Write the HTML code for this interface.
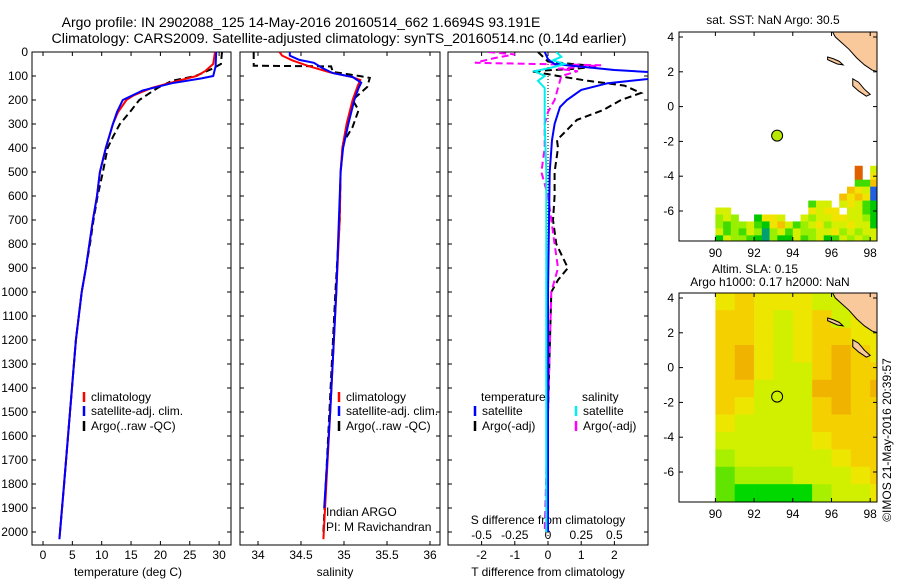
<!DOCTYPE html>
<html><head><meta charset="utf-8">
<style>
html,body{margin:0;padding:0;background:#fff;}
svg{display:block;font-family:"Liberation Sans",sans-serif;}
text{font-size:12px;fill:#000;}
</style></head>
<body>
<svg id="fig" width="900" height="580" viewBox="0 0 900 580" xmlns="http://www.w3.org/2000/svg">
<text x="301" y="27" text-anchor="middle" style="font-size:14px">Argo profile: IN 2902088_125 14-May-2016 20160514_662 1.6694S 93.191E</text>
<text x="339" y="43" text-anchor="middle" style="font-size:14.2px">Climatology: CARS2009. Satellite-adjusted climatology: synTS_20160514.nc (0.14d earlier)</text>
<g id="g"></g>
</svg>
<script>
// ---------- data ----------
const depthTicks=[0,100,200,300,400,500,600,700,800,900,1000,1100,1200,1300,1400,1500,1600,1700,1800,1900,2000];
const tempTicks=[0,5,10,15,20,25,30];
const salTicks=[34,34.5,35,35.5,36];
const tdTicks=[-2,-1,0,1,2];
const sdTicks=[-0.5,-0.25,0,0.25,0.5];
const lonTicks=[90,92,94,96,98];
const latTicks=[4,2,0,-2,-4,-6];

const tClimD=[0,50,80,100,120,150,180,200,250,300,400,500,600,700,800,900,1000,1200,1500,1800,2000,2030];
const tClimV=[29.3,29.0,27.6,26.2,23,18.5,15.5,14.2,12.8,11.9,10.7,9.7,9.2,8.5,7.9,7.3,6.6,5.6,4.6,3.6,2.9,2.8];
const tSatD=[0,60,100,110,130,160,200,250,300,400,500,600,700,800,900,1000,1200,1500,1800,2000,2030];
const tSatV=[29.5,29.4,29,27,22,17,13.6,12.6,11.9,10.7,9.7,9.2,8.5,7.9,7.3,6.6,5.6,4.6,3.6,2.9,2.8];
const tArgoD=[0,50,70,100,120,150,200,250,300,350,400,500,600,700,800,900,1000,1200,1500,1800,2000];
const tArgoV=[30.5,30.3,28.8,26,22,19.5,16.4,14.8,13.1,12,11,10.2,9.3,8.6,8.0,7.3,6.6,5.6,4.6,3.6,2.9];

const sClimD=[0,15,35,60,85,105,117,140,200,300,400,500,700,1000,1500,2030];
const sClimV=[34.25,34.28,34.4,34.6,34.84,35.1,35.19,35.16,35.1,35.03,34.98,34.96,34.95,34.91,34.84,34.76];
const sSatD=[0,15,33,45,67,88,104,128,150,200,300,400,500,1000,1500,1900];
const sSatV=[34.37,34.37,34.48,34.65,34.75,34.87,35.1,35.2,35.17,35.12,35.05,34.99,34.96,34.91,34.84,34.77];
const sArgoD=[0,50,57,60,83,100,108,146,200,242,312,354,380,500,700,1000,1500,2000];
const sArgoV=[33.95,33.95,33.95,34.85,34.87,35.18,35.3,35.27,35.1,35.17,35.1,35.03,34.99,34.96,34.95,34.9,34.83,34.76];

const dTSatD=[0,30,50,75,85,110,130,158,200,229,300,367,500,1000,2000];
const dTSatV=[-0.1,0.0,0.2,2.0,3.2,3.2,1.8,1.0,0.57,0.36,0.2,0.12,0.05,0,0];
const dTArgoD=[0,40,60,70,80,100,120,140,171,200,242,283,367,400,450,500,600,700,800,900,950,1000,1500,2000];
const dTArgoV=[-0.3,0,1.5,0.8,-0.5,0.3,1.2,2.3,2.8,2.2,1.66,0.87,0.27,0.3,0.25,0.2,0.2,0.15,0.25,0.6,0.3,0.1,0.0,-0.05];
const dSSatD=[0,20,35,50,65,80,100,120,150,200,300,500,1000,2000];
const dSSatV=[0.25,0.4,0.15,0.5,0.1,-0.4,-0.1,-0.3,-0.1,-0.1,-0.1,-0.05,-0.05,-0.05];
const dSArgoD=[0,10,25,45,55,70,80,100,150,200,250,300,400,500,600,700,800,900,1000,1500,2000];
const dSArgoV=[-1.8,-1.0,-1.6,-2.2,1.6,0.3,0.9,0.4,0.3,0.2,0.0,-0.1,-0.1,-0.2,0.0,0.1,0.2,0.3,0.1,0,-0.1];

const sstRowLat=[-3.4,-3.8,-4.2,-4.6,-5.0,-5.4,-5.8,-6.2,-6.6,-7.0,-7.4];
const sstRows=["..................O.y","..................O.Y","..................GGo",".................oYyb","................oYoYb","............Gyy.yYyGg","yy..........YyYY.yyGg","lyl..gYYy..ylyyYYyylg","lGllyGgYoyGlyYlyyYyyg","yGlGyltlyGyllyyYlylyy","gyllGgtlggyGlygGylyly"];
const slaRowLat=[4.3,3.3,2.3,1.3,0.3,-0.7,-1.7,-2.7,-3.7,-4.7,-5.7,-6.7];
const slaRows=["YoYYYyyYY","ooYyYoyYY","ooYyYooYY","oOYyYoOoY","oOYyyoOoo","ooyyyOOoO","oYyyyoOoo","Yyyyyoooo","yyyyyYooo","lyyyyyYoo","GlllyyyYo","GgggglyyY"];
const argoLon=93.191, argoLat=-1.6694;

// ---------- helpers ----------
const NS="http://www.w3.org/2000/svg";
const G=document.getElementById('g');
function mk(tag,attrs,parent){const e=document.createElementNS(NS,tag);for(const k in attrs)e.setAttribute(k,attrs[k]);(parent||G).appendChild(e);return e;}
const PT=52, PB=545;
const yD=d=>PT+d*0.24;
const xT=t=>43+t*5.87;
const xS=s=>258+(s-34)*86;
const xDT=v=>548+v*33.2;
const xDS=v=>548+v*132.8;
const panels=[[32,231],[240,440],[448,648]];
const palette={g:"#00c800",G:"#40dc00",l:"#98f000",y:"#d4f000",Y:"#f0e400",o:"#f5c000",O:"#e06000",b:"#2060e0",t:"#00a070"};
const slaPal={g:"#00d800",G:"#60e400",l:"#a8f000",y:"#d0f000",Y:"#ece600",o:"#f5d000",O:"#f0b400"};

function poly(ds,vs,xf,color,dash,name,w){
  const pts=ds.map((d,i)=>xf(vs[i]).toFixed(1)+","+yD(d).toFixed(1)).join(" ");
  const p=mk('polyline',{points:pts,fill:"none",stroke:color,"stroke-width":w||2,"stroke-dasharray":dash||"none","clip-path":"url(#"+name.split('-')[0]+"clip)"});
  
  
}
function txt(x,y,s,anchor,name,extra){
  const t=mk('text',Object.assign({x:x,y:y,"text-anchor":anchor||"start"},extra||{}));t.textContent=s;
  
  
  return t;
}

const defs=mk('defs',{});
["p1","p2","p3"].forEach((n,i)=>{const c=mk('clipPath',{id:n+"clip"},defs);mk('rect',{x:panels[i][0],y:PT,width:panels[i][1]-panels[i][0],height:PB-PT},c);});
[["m1",32],["m2",293]].forEach(([n,y0])=>{const c=mk('clipPath',{id:n+"clip"},defs);mk('rect',{x:679,y:y0,width:198,height:209},c);});

panels.forEach((p,i)=>{
  const r=mk('rect',{x:p[0],y:PT,width:p[1]-p[0],height:PB-PT,fill:"none",stroke:"#000","stroke-width":1});
  
  
  depthTicks.forEach(d=>{mk('line',{x1:p[0],x2:p[0]+4,y1:yD(d),y2:yD(d),stroke:"#000"});mk('line',{x1:p[1]-4,x2:p[1],y1:yD(d),y2:yD(d),stroke:"#000"});});
});
depthTicks.forEach(d=>txt(28,yD(d)+4,String(d),"end","depth-tick-label"));
tempTicks.forEach(t=>{const x=xT(t);mk('line',{x1:x,x2:x,y1:PT,y2:PT+4,stroke:"#000"});mk('line',{x1:x,x2:x,y1:PB-4,y2:PB,stroke:"#000"});txt(x,559,String(t),"middle","temp-tick-label");});
salTicks.forEach(s=>{const x=xS(s);mk('line',{x1:x,x2:x,y1:PT,y2:PT+4,stroke:"#000"});mk('line',{x1:x,x2:x,y1:PB-4,y2:PB,stroke:"#000"});txt(x,559,String(s),"middle","salinity-tick-label");});
tdTicks.forEach(v=>{const x=xDT(v);mk('line',{x1:x,x2:x,y1:PT,y2:PT+4,stroke:"#000"});mk('line',{x1:x,x2:x,y1:PB-4,y2:PB,stroke:"#000"});txt(x,559,String(v),"middle","tdiff-tick-label");});
sdTicks.forEach(v=>txt(xDS(v),539,String(v),"middle","sdiff-tick-label"));
txt(128,576,"temperature (deg C)","middle","x-axis-title-temperature");
txt(335,576,"salinity","middle","x-axis-title-salinity");
txt(548,576,"T difference from climatology","middle","x-axis-title-tdiff");
txt(548,524,"S difference from climatology","middle","sdiff-axis-title");
mk('line',{x1:548,x2:548,y1:PT,y2:PB,stroke:"#000","stroke-width":1,"stroke-dasharray":"1,2"});

poly(tArgoD,tArgoV,xT,"#000","7,4","p1-temp-argo");
poly(tClimD,tClimV,xT,"#f00","","p1-temp-climatology");
poly(tSatD,tSatV,xT,"#00f","","p1-temp-satellite");
poly(sArgoD,sArgoV,xS,"#000","7,4","p2-sal-argo");
poly(sClimD,sClimV,xS,"#f00","","p2-sal-climatology");
poly(sSatD,sSatV,xS,"#00f","","p2-sal-satellite");
poly(dTArgoD,dTArgoV,xDT,"#000","7,4","p3-tdiff-argo");
poly(dSArgoD,dSArgoV,xDT,"#f0f","7,4","p3-sdiff-argo");
poly(dTSatD,dTSatV,xDT,"#00f","","p3-tdiff-satellite");
poly(dSSatD,dSSatV,xDT,"#0ee","","p3-sdiff-satellite");

function leg(mx,y,color,label,name){const l=mk('line',{x1:mx,x2:mx,y1:y-6,y2:y+4,stroke:color,"stroke-width":2.5});txt(mx+7,y+3,label,"start",name);}
leg(84,398,"#f00","climatology","legend-climatology");
leg(84,412,"#00f","satellite-adj. clim.","legend-satellite");
leg(84,427,"#000","Argo(..raw -QC)","legend-argo");
leg(339,398,"#f00","climatology","legend2-climatology");
leg(339,412,"#00f","satellite-adj. clim.","legend2-satellite");
leg(339,427,"#000","Argo(..raw -QC)","legend2-argo");
txt(481,401,"temperature","start","legend3-temperature-header");
txt(582,401,"salinity","start","legend3-salinity-header");
leg(475,412,"#00f","satellite","legend3-temp-satellite");
leg(475,427,"#000","Argo(-adj)","legend3-temp-argo");
leg(576,412,"#0ee","satellite","legend3-sal-satellite");
leg(576,427,"#f0f","Argo(-adj)","legend3-sal-argo");
txt(326,516,"Indian ARGO","start","credit-indian-argo");
txt(326,531,"PI: M Ravichandran","start","credit-pi");

// ---------- maps ----------
const mLon=l=>679+(l-88.12)*19.35;
function mapLat(y0){return v=>y0+5+(4-v)*17.4;}
function drawMap(y0,name,cb){
  const yL=mapLat(y0);
  const g=mk('g',{"clip-path":"url(#"+name+"clip)"});
  
  
  cb(g,yL);
  const land=[[96.0,4.4],[96.2,4.0],[96.5,3.7],[96.9,3.3],[97.3,2.8],[97.7,2.4],[98.1,2.1],[98.4,2.0],[98.4,4.4]];
  mk('polygon',{points:land.map(p=>mLon(p[0])+","+yL(p[1])).join(" "),fill:"#f9c99b",stroke:"#000","stroke-width":1},g);
  const sim=[[95.8,2.85],[96.1,2.75],[96.4,2.6],[96.6,2.4],[96.3,2.45],[96.0,2.6],[95.8,2.7]];
  mk('polygon',{points:sim.map(p=>mLon(p[0])+","+yL(p[1])).join(" "),fill:"#f9c99b",stroke:"#000"},g);
  const nias=[[97.1,1.6],[97.4,1.4],[97.7,1.0],[98.0,0.7],[97.8,0.6],[97.4,0.9],[97.1,1.2]];
  mk('polygon',{points:nias.map(p=>mLon(p[0])+","+yL(p[1])).join(" "),fill:"#f9c99b",stroke:"#000"},g);
  mk('rect',{x:679,y:y0,width:198,height:209,fill:"none",stroke:"#000"});
  lonTicks.forEach(l=>{const x=mLon(l);mk('line',{x1:x,x2:x,y1:y0,y2:y0+4,stroke:"#000"});mk('line',{x1:x,x2:x,y1:y0+205,y2:y0+209,stroke:"#000"});txt(x,y0+225,String(l),"middle","lon-tick-label");});
  latTicks.forEach(l=>{const y=yL(l);mk('line',{x1:679,x2:683,y1:y,y2:y,stroke:"#000"});mk('line',{x1:873,x2:877,y1:y,y2:y,stroke:"#000"});txt(674,y+4,String(l),"end","lat-tick-label");});
  return yL;
}
const yL1=drawMap(32,"m1",(g,yL)=>{
  sstRows.forEach((row,r)=>{for(let c=0;c<row.length;c++){const ch=row[c];if(ch==='.')continue;
    const lon=90+0.4*c, lat=sstRowLat[r];
    const cell=mk('rect',{x:mLon(lon),y:yL(lat),width:0.4*19.35+0.3,height:0.4*17.4+0.3,fill:palette[ch]},g);
    
    }});
});
const c1=mk('circle',{cx:mLon(argoLon),cy:yL1(argoLat),r:5.5,fill:"#b8e800",stroke:"#000"});


const yL2=drawMap(293,"m2",(g,yL)=>{
  slaRows.forEach((row,r)=>{for(let c=0;c<row.length;c++){const ch=row[c];
    const lon=90+c, lat=slaRowLat[r];
    const cell=mk('rect',{x:mLon(lon),y:yL(lat),width:19.35+0.3,height:17.4+0.3,fill:slaPal[ch]},g);
    
    }});
});
const c2=mk('circle',{cx:mLon(argoLon),cy:yL2(argoLat),r:5.5,fill:"none",stroke:"#000"});


txt(773,24,"sat. SST: NaN Argo: 30.5","middle","sst-map-title");
txt(755,273,"Altim. SLA: 0.15","middle","sla-map-title-1");
txt(770,286,"Argo h1000: 0.17 h2000: NaN","middle","sla-map-title-2");
txt(0,0,"\u00a9IMOS 21-May-2016 20:39:57","middle","imos-timestamp",{transform:"translate(891,440) rotate(-90)"});
</script>
</body></html>
